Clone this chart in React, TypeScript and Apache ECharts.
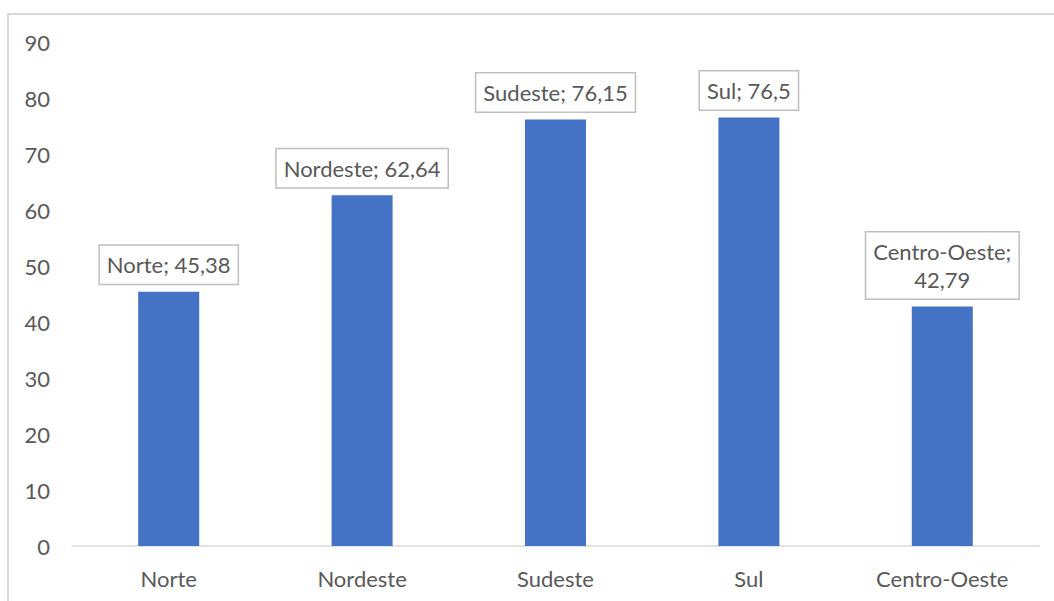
import React, { useEffect, useRef } from "react";
import * as echarts from "echarts";

const categories = ["Norte", "Nordeste", "Sudeste", "Sul", "Centro-Oeste"];
const values = [45.38, 62.64, 76.15, 76.5, 42.79];
const yTicks = { min: 0, max: 90, interval: 10 };

const FONT = "Lato";
const TEXT = "#595959";

const fmt = (v: number) => String(v).replace(".", ",");

export default function App() {
  const ref = useRef<HTMLDivElement>(null);

  useEffect(() => {
    document.body.style.margin = "0";
    const chart = echarts.init(ref.current!, null, { renderer: "svg" });
    chart.setOption({
      animation: false,
      backgroundColor: "#ffffff",
      textStyle: { fontFamily: FONT, color: TEXT },
      graphic: [
        {
          type: "rect",
          shape: { x: 8, y: 14, width: 1100, height: 700 },
          style: { fill: "none", stroke: "#d9d9d9", lineWidth: 2 },
          silent: true,
        },
      ],
      grid: { left: 72, right: 15, top: 42, bottom: 55 },
      xAxis: {
        type: "category",
        data: categories,
        axisLine: { lineStyle: { color: "#d9d9d9", width: 1.5 } },
        axisTick: { show: false },
        axisLabel: { color: TEXT, fontFamily: FONT, fontSize: 22, margin: 21 },
      },
      yAxis: {
        type: "value",
        min: yTicks.min,
        max: yTicks.max,
        interval: yTicks.interval,
        axisLine: { show: false },
        axisTick: { show: false },
        splitLine: { show: false },
        axisLabel: { color: TEXT, fontFamily: FONT, fontSize: 22, margin: 22 },
      },
      series: [
        {
          type: "bar",
          data: values,
          barWidth: 61,
          itemStyle: { color: "#4472C4" },
          label: {
            show: true,
            position: "top",
            distance: 8,
            color: TEXT,
            fontFamily: FONT,
            fontSize: 22,
            lineHeight: 28,
            backgroundColor: "#ffffff",
            borderColor: "#bfbfbf",
            borderWidth: 1.5,
            padding: [5, 7, 5, 7],
            align: "center",
            formatter: (p: any) =>
              p.name.length > 10
                ? `${p.name};\n${fmt(p.value)}`
                : `${p.name}; ${fmt(p.value)}`,
          },
        },
      ],
    });
    return () => chart.dispose();
  }, []);

  return <div ref={ref} style={{ width: 1054, height: 601 }} />;
}
